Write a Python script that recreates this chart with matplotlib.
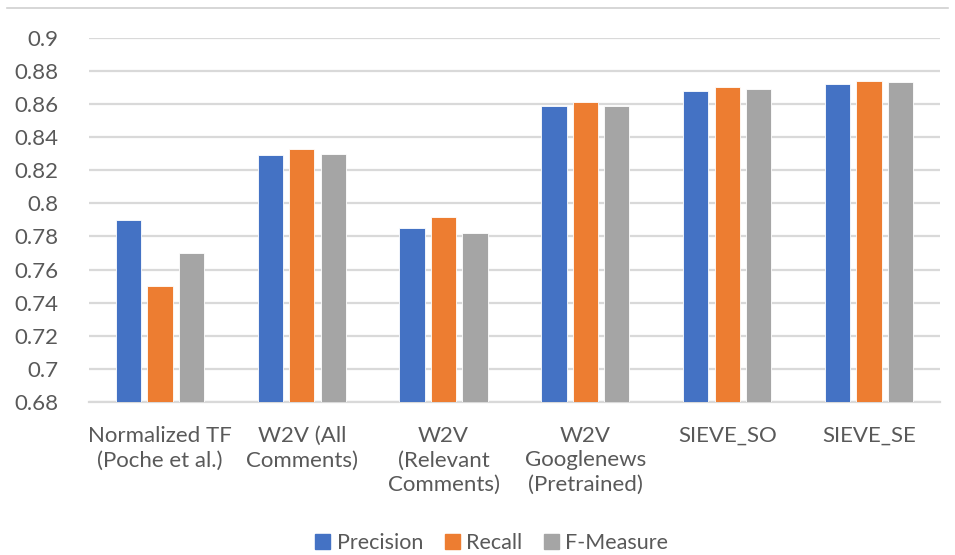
import numpy as np
import matplotlib
matplotlib.use("Agg")
import matplotlib.pyplot as plt
from matplotlib.lines import Line2D

plt.rcParams['font.family'] = ['Lato', 'DejaVu Sans']

categories = [
    "Normalized TF\n(Poche et al.)",
    "W2V (All\nComments)",
    "W2V\n(Relevant\nComments)",
    "W2V\nGooglenews\n(Pretrained)",
    "SIEVE_SO",
    "SIEVE_SE",
]
series_names = ["Precision", "Recall", "F-Measure"]
precision = [0.790, 0.829, 0.785, 0.859, 0.868, 0.872]
recall = [0.750, 0.833, 0.792, 0.861, 0.870, 0.874]
f_measure = [0.770, 0.830, 0.782, 0.859, 0.869, 0.873]
y_ticks = [0.68, 0.7, 0.72, 0.74, 0.76, 0.78, 0.8, 0.82, 0.84, 0.86, 0.88, 0.9]

colors = ["#4472C4", "#ED7D31", "#A5A5A5"]
text_color = "#595959"
grid_color = "#D9D9D9"

fig = plt.figure(figsize=(9.55, 5.55), dpi=100)
ax = fig.add_axes([0.0932, 0.2757, 0.891, 0.6563])

x = np.arange(len(categories))
step = 0.222
width = 0.178
for i, (vals, name) in enumerate(zip([precision, recall, f_measure], series_names)):
    ax.bar(x + (i - 1) * step, vals, width=width, color=colors[i], label=name,
           edgecolor="white", linewidth=0.6, zorder=3)

ax.set_xlim(-0.5, len(categories) - 0.5)
ax.set_ylim(0.68, 0.9)
ax.set_yticks(y_ticks)
ax.set_yticklabels([f"{t:g}" for t in y_ticks])
ax.yaxis.grid(True, color=grid_color, linewidth=1.6, zorder=0)
ax.set_axisbelow(True)
for s in ["top", "right", "left"]:
    ax.spines[s].set_visible(False)
ax.spines["bottom"].set_color(grid_color)
ax.spines["bottom"].set_linewidth(1.6)
ax.tick_params(axis="y", length=0, pad=22, labelsize=16, labelcolor=text_color)
ax.tick_params(axis="x", length=0, pad=17, labelsize=16, labelcolor=text_color)
ax.set_xticks(x)
ax.set_xticklabels(categories, linespacing=1.3, va="top")

handles = [plt.Rectangle((0, 0), 1, 1, color=c) for c in colors]
leg = fig.legend(handles, series_names, loc="center", bbox_to_anchor=(0.515, 0.022),
                 ncol=3, frameon=False, fontsize=15.5, handlelength=0.7,
                 handleheight=0.7, handletextpad=0.3, columnspacing=1.0)
for t in leg.get_texts():
    t.set_color(text_color)

# thin rule across the top of the figure
fig.add_artist(Line2D([7 / 955, 948 / 955], [1 - 8 / 555, 1 - 8 / 555],
                      transform=fig.transFigure, color="#D0D0D0", linewidth=1.2))

fig.savefig("out.png", dpi=100, facecolor="white")
